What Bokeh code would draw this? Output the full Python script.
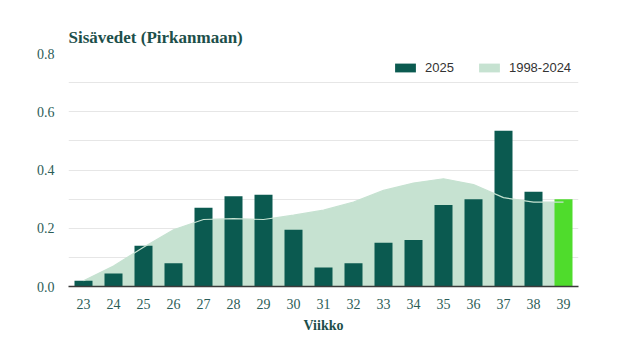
from bokeh.plotting import figure
from bokeh.models import Range1d, FixedTicker, Legend, LegendItem, ColumnDataSource, CustomJSTickFormatter
from bokeh.embed import file_html
from bokeh.resources import INLINE

weeks = [23, 24, 25, 26, 27, 28, 29, 30, 31, 32, 33, 34, 35, 36, 37, 38, 39]
values_2025 = [0.02, 0.045, 0.14, 0.08, 0.27, 0.31, 0.315, 0.195, 0.065, 0.08,
               0.15, 0.16, 0.28, 0.30, 0.535, 0.325, 0.30]
hist_1998_2024 = [0.02, 0.07, 0.135, 0.195, 0.23, 0.233, 0.23, 0.245, 0.262, 0.29,
                  0.33, 0.355, 0.37, 0.35, 0.305, 0.29, 0.29]
bar_colors = ["#0b5a50"] * 16 + ["#4fdc2c"]
title_text = "Sisävedet (Pirkanmaan)"
x_label = "Viikko"

TEAL = "#1d4f4a"
SERIF = "Liberation Serif"

p = figure(width=643, height=343, output_backend="svg", toolbar_location=None,
           x_range=Range1d(22.5, 39.5), y_range=Range1d(0, 0.8),
           min_border_left=68, min_border_right=65, min_border_top=53, min_border_bottom=57,
           title=title_text)
p.outline_line_color = None
p.background_fill_color = "white"
p.border_fill_color = "white"
p.title.text_font = SERIF
p.title.text_font_style = "bold"
p.title.text_font_size = "17px"
p.title.text_color = TEAL
p.title.align = "left"
p.title.standoff = 13

src = ColumnDataSource(dict(x=weeks, top=values_2025, color=bar_colors, hist=hist_1998_2024))

area = p.varea(x="x", y1=0, y2="hist", source=src, fill_color="#c6e2d1")
bars = p.vbar(x="x", top="top", width=0.6, fill_color="color", line_color=None, source=src)
p.line(x="x", y="hist", source=src, line_color="#c6e2d1", line_width=1.2)

p.xaxis.ticker = FixedTicker(ticks=weeks)
p.yaxis.ticker = FixedTicker(ticks=[0.0, 0.2, 0.4, 0.6, 0.8])
p.yaxis.formatter = CustomJSTickFormatter(code="return tick.toFixed(1);")
p.ygrid.ticker = FixedTicker(ticks=[0.1 * i for i in range(9)])
p.ygrid.grid_line_color = "#e6e6e6"
p.xgrid.grid_line_color = None

for ax in (p.xaxis[0], p.yaxis[0]):
    ax.major_tick_line_color = None
    ax.minor_tick_line_color = None
    ax.major_label_text_font = SERIF
    ax.major_label_text_font_size = "14px"
    ax.major_label_text_color = "#2c5d58"
p.yaxis.axis_line_color = None
p.yaxis.major_label_standoff = 8
p.xaxis.axis_line_color = "#3a3a3a"
p.xaxis.axis_line_width = 1.5
p.xaxis.major_label_standoff = 6
p.xaxis.axis_label = x_label
p.xaxis.axis_label_text_font = SERIF
p.xaxis.axis_label_text_font_style = "bold"
p.xaxis.axis_label_text_font_size = "14px"
p.xaxis.axis_label_text_color = TEAL
p.xaxis.axis_label_standoff = 6

legend = Legend(items=[LegendItem(label="2025", renderers=[bars], index=0),
                       LegendItem(label="1998-2024", renderers=[area])],
                orientation="horizontal", location=(324, 211),
                glyph_width=26, glyph_height=11, label_standoff=7, spacing=22,
                padding=0, margin=0, border_line_color=None, background_fill_alpha=0,
                label_text_font="Liberation Sans", label_text_font_size="13px",
                label_text_color="#333333")
p.add_layout(legend)

open("out.html", "w").write(file_html(p, INLINE))
